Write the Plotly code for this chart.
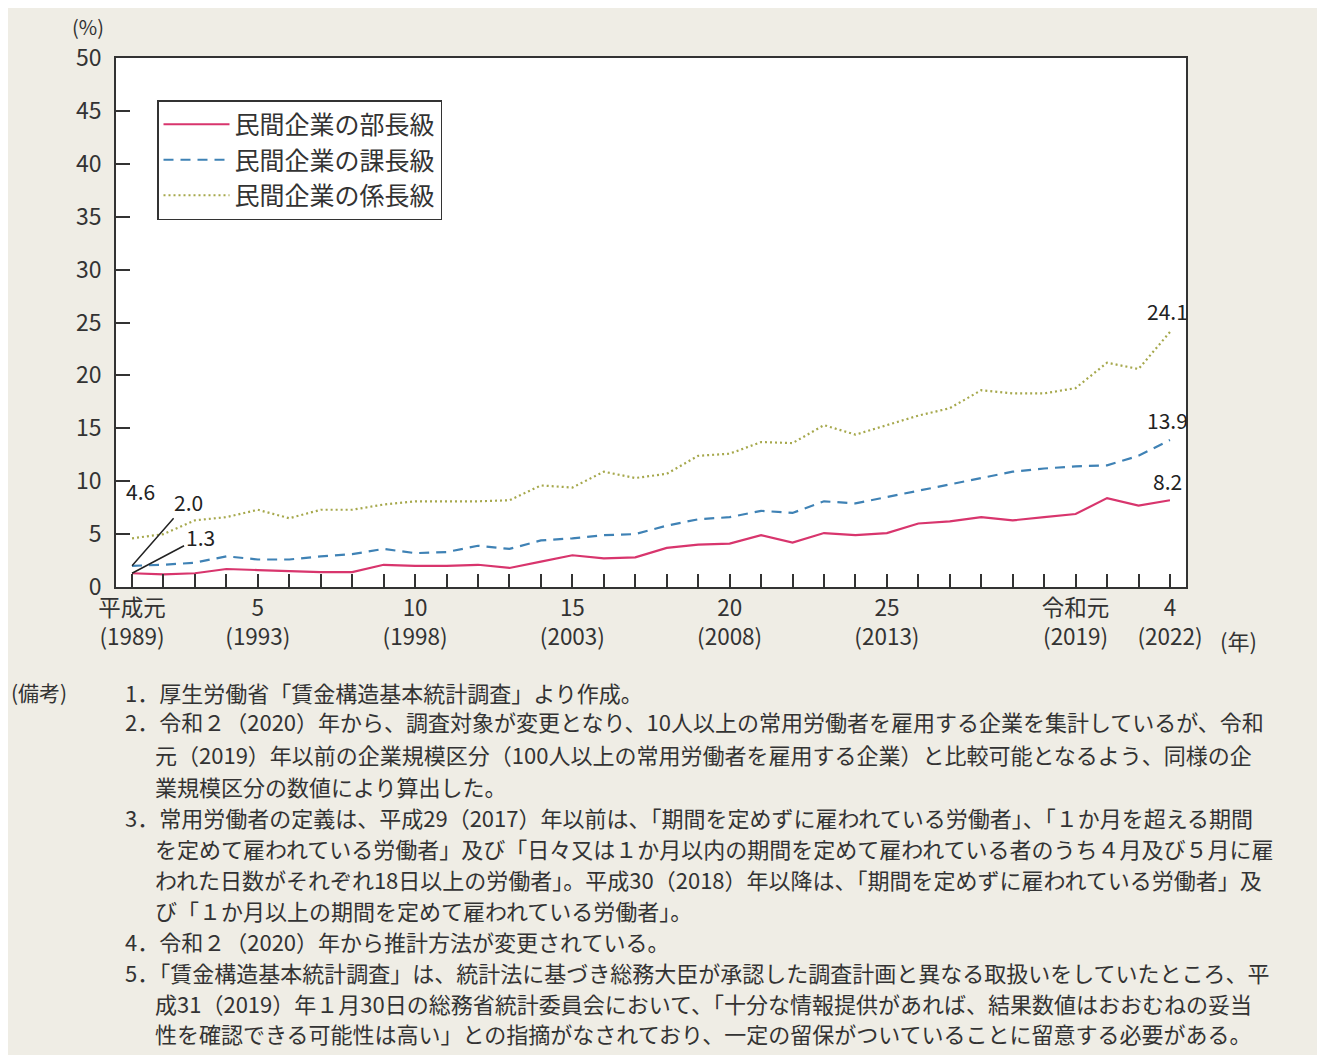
import plotly.graph_objects as go

years = list(range(1989, 2023))
bucho = [1.3, 1.2, 1.3, 1.7, 1.6, 1.5, 1.4, 1.4, 2.1, 2.0, 2.0, 2.1, 1.8, 2.4, 3.0,
         2.7, 2.8, 3.7, 4.0, 4.1, 4.9, 4.2, 5.1, 4.9, 5.1, 6.0, 6.2, 6.6, 6.3, 6.6,
         6.9, 8.4, 7.7, 8.2]
kacho = [2.0, 2.1, 2.3, 2.9, 2.6, 2.6, 2.9, 3.1, 3.6, 3.2, 3.3, 3.9, 3.6, 4.4, 4.6,
         4.9, 5.0, 5.8, 6.4, 6.6, 7.2, 7.0, 8.1, 7.9, 8.5, 9.1, 9.7, 10.3, 10.9, 11.2,
         11.4, 11.5, 12.4, 13.9]
kakaricho = [4.6, 5.0, 6.3, 6.6, 7.3, 6.5, 7.3, 7.3, 7.8, 8.1, 8.1, 8.1, 8.2, 9.6, 9.4,
             10.9, 10.3, 10.7, 12.4, 12.6, 13.7, 13.6, 15.3, 14.4, 15.3, 16.2, 16.9, 18.6,
             18.3, 18.3, 18.8, 21.2, 20.6, 24.1]

series_names = ["民間企業の部長級", "民間企業の課長級", "民間企業の係長級"]

tick_vals = [1989, 1993, 1998, 2003, 2008, 2013, 2019, 2022]
tick_text = ["平成元<br>(1989)", "5<br>(1993)", "10<br>(1998)", "15<br>(2003)",
             "20<br>(2008)", "25<br>(2013)", "令和元<br>(2019)", "4<br>(2022)"]

notes = [
    "1．厚生労働省「賃金構造基本統計調査」より作成。",
    "2．令和２（2020）年から、調査対象が変更となり、10人以上の常用労働者を雇用する企業を集計しているが、令和",
    "元（2019）年以前の企業規模区分（100人以上の常用労働者を雇用する企業）と比較可能となるよう、同様の企",
    "業規模区分の数値により算出した。",
    "3．常用労働者の定義は、平成29（2017）年以前は、「期間を定めずに雇われている労働者」、「１か月を超える期間",
    "を定めて雇われている労働者」及び「日々又は１か月以内の期間を定めて雇われている者のうち４月及び５月に雇",
    "われた日数がそれぞれ18日以上の労働者」。平成30（2018）年以降は、「期間を定めずに雇われている労働者」及",
    "び「１か月以上の期間を定めて雇われている労働者」。",
    "4．令和２（2020）年から推計方法が変更されている。",
    "5．「賃金構造基本統計調査」は、統計法に基づき総務大臣が承認した調査計画と異なる取扱いをしていたところ、平",
    "成31（2019）年１月30日の総務省統計委員会において、「十分な情報提供があれば、結果数値はおおむねの妥当",
    "性を確認できる可能性は高い」との指摘がなされており、一定の留保がついていることに留意する必要がある。",
]
note_y = [692, 721, 754, 786, 817, 848, 879, 910, 941, 972, 1003, 1033]
note_x = [123, 123, 153, 153, 123, 153, 153, 153, 123, 123, 153, 153]

FONT = "Noto Sans CJK JP"
OFF = 8  # page body margin
W, H = 1317, 1047
PL, PR, PT, PB = 116 - OFF, 1186 - OFF, 58 - OFF, 587 - OFF


def px(x):
    return (x - OFF - PL) / (PR - PL)


def py(y):
    return (PB - (y - OFF)) / (PB - PT)


fig = go.Figure()
fig.add_trace(go.Scatter(x=years, y=bucho, name=series_names[0], mode="lines",
                         line=dict(color="#d8356d", width=2.2)))
fig.add_trace(go.Scatter(x=years, y=kacho, name=series_names[1], mode="lines",
                         line=dict(color="#3f82b5", width=2.2, dash="10px,7px")))
fig.add_trace(go.Scatter(x=years, y=kakaricho, name=series_names[2], mode="lines",
                         line=dict(color="#a6a84c", width=2.2, dash="2px,3px")))

ann = []
ann.append(dict(x=years[0], y=kacho[0], xref="x", yref="y", text="2.0", showarrow=True,
                arrowhead=0, arrowwidth=1.5, arrowcolor="#222", ax=56, ay=-64,
                font=dict(size=21, color="#222", family=FONT)))
ann.append(dict(x=years[0], y=bucho[0], xref="x", yref="y", text="1.3", showarrow=True,
                arrowhead=0, arrowwidth=1.5, arrowcolor="#222", ax=68, ay=-36,
                font=dict(size=21, color="#222", family=FONT)))
ann.append(dict(x=years[0], y=kakaricho[0], xref="x", yref="y", text="4.6", showarrow=False,
                xshift=8, yshift=47, font=dict(size=21, color="#222", family=FONT)))
for vals, ys in ((kakaricho, 21), (kacho, 20), (bucho, 19)):
    ann.append(dict(x=years[-1], y=vals[-1], xref="x", yref="y", text=f"{vals[-1]:.1f}",
                    showarrow=False, yshift=ys, xshift=-2,
                    font=dict(size=21, color="#222", family=FONT)))
ann.append(dict(x=px(88), y=py(26), xref="paper", yref="paper", text="(%)", showarrow=False,
                xanchor="center", yanchor="middle",
                font=dict(size=20, color="#333", family=FONT)))
ann.append(dict(x=px(1238), y=py(640), xref="paper", yref="paper", text="(年)", showarrow=False,
                xanchor="center", yanchor="middle",
                font=dict(size=22, color="#333", family=FONT)))
ann.append(dict(x=px(9), y=py(note_y[0]), xref="paper", yref="paper", text="(備考)",
                showarrow=False, xanchor="left", yanchor="middle",
                font=dict(size=21, color="#333", family=FONT)))
for t, yy, xx in zip(notes, note_y, note_x):
    ann.append(dict(x=px(xx), y=py(yy), xref="paper", yref="paper", text=t,
                    showarrow=False, xanchor="left", yanchor="middle",
                    font=dict(size=22, color="#333", family=FONT)))

fig.update_layout(
    width=W, height=H,
    margin=dict(l=PL, r=W - PR, t=PT, b=H - PB),
    paper_bgcolor="#efede5", plot_bgcolor="#ffffff",
    font=dict(family=FONT, size=22, color="#333"),
    showlegend=True,
    legend=dict(x=px(157), y=py(100), xanchor="left", yanchor="top",
                bgcolor="#ffffff", bordercolor="#333", borderwidth=1.5,
                font=dict(size=25, color="#333", family=FONT),
                itemwidth=66, tracegroupgap=0),
    annotations=ann,
)
fig.update_xaxes(range=[1988.49, 2022.51], tickmode="array", tickvals=tick_vals,
                 ticktext=tick_text, showgrid=False, zeroline=False,
                 showline=True, linecolor="#333", linewidth=1.6, mirror=True,
                 ticks="", tickfont=dict(size=22.5, color="#333", family=FONT))
fig.update_xaxes(minor=dict(tickmode="array", tickvals=years, ticks="inside",
                            ticklen=13, tickcolor="#333", tickwidth=1.5))
fig.update_yaxes(range=[0, 50], tickmode="linear", tick0=0, dtick=5,
                 showgrid=False, zeroline=False, showline=True, linecolor="#333",
                 linewidth=1.6, mirror=True, ticks="inside", ticklen=14,
                 tickcolor="#333", tickwidth=1.5, ticklabelstandoff=8,
                 tickfont=dict(size=23, color="#333", family=FONT))

fig.write_html("out.html")
